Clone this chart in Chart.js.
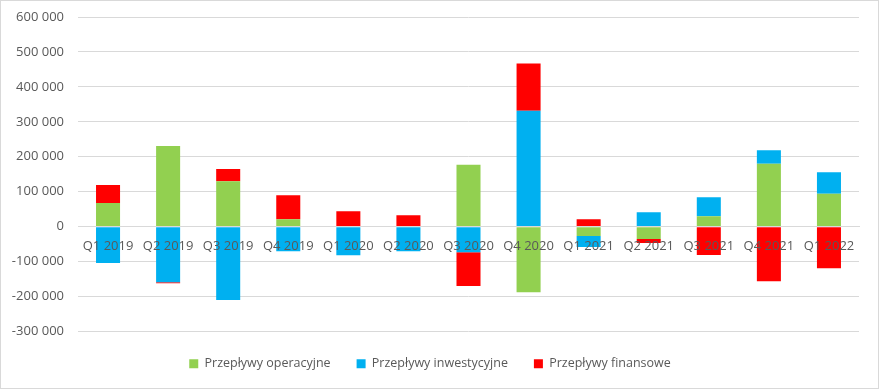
<!DOCTYPE html>
<html>
<head>
<meta charset="utf-8">
<script src="https://cdn.jsdelivr.net/npm/chart.js@4.4.0/dist/chart.umd.min.js"></script>
<style>
  body { margin: 0; background: #fff; }
  #box { width: 879px; height: 389px; box-sizing: border-box; border: 1px solid #d9d9d9; }
</style>
</head>
<body>
<div id="box"><canvas id="flowChart" width="877" height="387"></canvas></div>
<script>
// Dane (przepływy pieniężne kwartalnie)
const quarters = ["Q1 2019", "Q2 2019", "Q3 2019", "Q4 2019", "Q1 2020", "Q2 2020", "Q3 2020",
  "Q4 2020", "Q1 2021", "Q2 2021", "Q3 2021", "Q4 2021", "Q1 2022"];
const operating = [68000, 231000, 130000, 21000, 2000, 0, 177000, -188000, -27000, -35000, 30000, 180000, 94000];
const investing = [-104000, -159000, -210000, -70000, -82000, -70000, -73000, 332000, -31000, 41000, 54000, 39000, 62000];
const financing = [51000, -3000, 35000, 69000, 42000, 33000, -97000, 135000, 21000, -12000, -81000, -156000, -119000];
const yTicks = [-300000, -200000, -100000, 0, 100000, 200000, 300000, 400000, 500000, 600000];

const textColor = "#595959";
const gridColor = "#d9d9d9";

function formatNum(v) {
  const s = Math.abs(v).toString().replace(/\B(?=(\d{3})+(?!\d))/g, " ");
  return (v < 0 ? "-" : "") + s;
}

const ctx = document.getElementById("flowChart").getContext("2d");
new Chart(ctx, {
  type: "bar",
  data: {
    labels: quarters,
    datasets: [
      { label: "Przepływy operacyjne", data: operating, backgroundColor: "#92D050" },
      { label: "Przepływy inwestycyjne", data: investing, backgroundColor: "#00B0F0" },
      { label: "Przepływy finansowe", data: financing, backgroundColor: "#FF0000" }
    ]
  },
  options: {
    responsive: false,
    animation: false,
    categoryPercentage: 0.8,
    barPercentage: 0.5,
    layout: { padding: { top: 16, right: 19, left: 0, bottom: 8 } },
    plugins: {
      tooltip: { enabled: false },
      legend: {
        position: "bottom",
        labels: {
          boxWidth: 9,
          boxHeight: 9,
          padding: 26,
          color: textColor,
          font: { family: "Open Sans", size: 12.5 }
        }
      }
    },
    scales: {
      x: {
        stacked: true,
        position: { y: 0 },
        afterFit: (scale) => { scale.height = 0; },
        grid: { display: false, drawTicks: false },
        border: { display: true, color: gridColor, width: 1, z: 1 },
        ticks: {
          z: 1,
          padding: 12,
          maxRotation: 0,
          autoSkip: false,
          color: textColor,
          font: { family: "Open Sans", size: 13 }
        }
      },
      y: {
        stacked: true,
        min: -300000,
        max: 600000,
        afterFit: (scale) => {
          scale.width = 77;
          scale.paddingTop = 0;
          scale.paddingBottom = 0;
        },
        afterBuildTicks: (scale) => { scale.ticks = yTicks.map(v => ({ value: v })); },
        grid: { color: gridColor, drawTicks: false },
        border: { display: false },
        ticks: {
          padding: 14,
          color: textColor,
          font: { family: "Open Sans", size: 13 },
          callback: (v) => formatNum(v)
        }
      }
    }
  }
});
</script>
</body>
</html>
